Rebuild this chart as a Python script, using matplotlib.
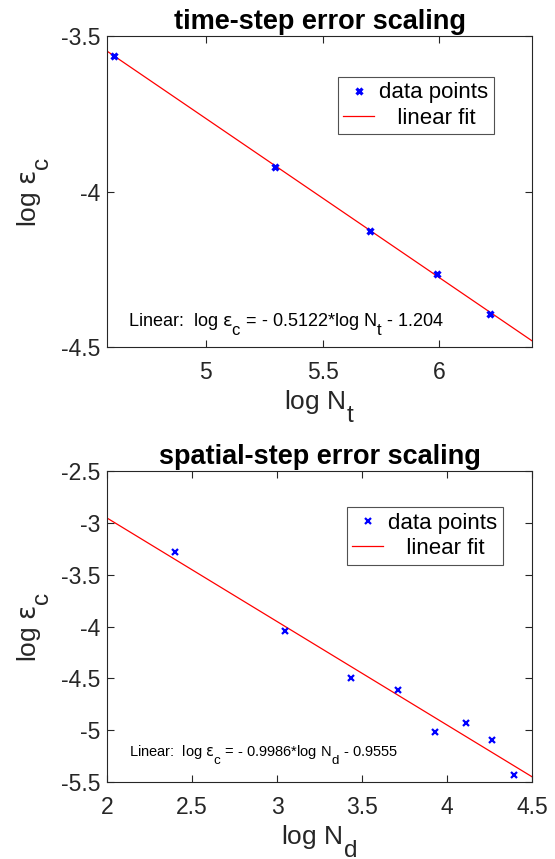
import numpy as np
import matplotlib
matplotlib.use("Agg")
import matplotlib.pyplot as plt
import matplotlib._mathtext as mt

plt.rcParams['font.family'] = ['Liberation Sans', 'DejaVu Sans']
plt.rcParams['mathtext.fontset'] = 'custom'
plt.rcParams['mathtext.rm'] = 'Liberation Sans'
plt.rcParams['mathtext.it'] = 'DejaVu Sans'
plt.rcParams['mathtext.fallback'] = 'stixsans'

# MATLAB-like subscripts: nearly full size, dropped below baseline
mt.SHRINK_FACTOR = 0.92
mt.FontConstantsBase.sub1 = 0.9
mt.FontConstantsBase.delta = 0.05

# ---- data: time-step ----
logNt = [4.605, 5.298, 5.704, 5.991, 6.215]
logec_t = [-3.564, -3.922, -4.127, -4.266, -4.393]
slope_t, icpt_t = -0.5122, -1.204
xlim_t = (4.577, 6.396)
ylim_t = (-4.5, -3.5)
xticks_t = [5, 5.5, 6]
yticks_t = [-4.5, -4, -3.5]

# ---- data: spatial-step ----
logNd = [2.398, 3.045, 3.434, 3.714, 3.932, 4.111, 4.263, 4.394]
logec_d = [-3.278, -4.046, -4.496, -4.609, -5.014, -4.927, -5.094, -5.429]
slope_d, icpt_d = -0.9986, -0.9555
xlim_d = (2, 4.5)
ylim_d = (-5.5, -2.5)
xticks_d = [2, 2.5, 3, 3.5, 4, 4.5]
yticks_d = [-5.5, -5, -4.5, -4, -3.5, -3, -2.5]

EPS = '$\\varepsilon_{\\rm c}$'

fig = plt.figure(figsize=(5.55, 8.59), dpi=100)
ax1 = fig.add_axes([0.1928, 0.596, 0.7658, 0.362])
ax2 = fig.add_axes([0.1928, 0.0896, 0.7658, 0.362])

gray = '#262626'

def style(ax):
    for s in ax.spines.values():
        s.set_color(gray)
        s.set_linewidth(0.8)
    ax.tick_params(direction='in', top=True, right=True, length=5,
                   width=0.8, color=gray, labelcolor=gray, labelsize=16.5)
    ax.tick_params(axis='x', pad=10)
    ax.tick_params(axis='y', pad=5)

def fmt(v):
    return '%g' % v

def finish(ax, title, xlab, xticks, yticks):
    ax.set_xticks(xticks)
    ax.set_xticklabels([fmt(v) for v in xticks])
    ax.set_yticks(yticks)
    ax.set_yticklabels([fmt(v) for v in yticks])
    style(ax)
    ax.set_title(title, fontsize=19.5, fontweight='bold', pad=5)
    ax.set_xlabel(xlab, fontsize=19, color=gray, labelpad=3)
    ax.set_ylabel('log ' + EPS, fontsize=19, color=gray, labelpad=6)

# top
xx = np.array(xlim_t)
ax1.plot(xx, slope_t * xx + icpt_t, color='red', lw=0.9, label='   linear fit', zorder=2)
ax1.plot(logNt, logec_t, linestyle='none', marker='x', ms=5, mew=2.3, color='blue',
         label='data points', zorder=3)
ax1.set_xlim(*xlim_t)
ax1.set_ylim(*ylim_t)
finish(ax1, 'time-step error scaling', 'log N$_{\\rm t}$', xticks_t, yticks_t)
h, l = ax1.get_legend_handles_labels()
leg1 = ax1.legend(h[::-1], l[::-1], loc='upper left', bbox_to_anchor=(0.543, 0.869),
                  fontsize=16, frameon=True, fancybox=False, edgecolor=gray,
                  handlelength=1.4, handletextpad=0.2, borderpad=0.25, labelspacing=0.2,
                  borderaxespad=0)
leg1.get_frame().set_linewidth(0.8)
ax1.text(4.665, -4.432, 'Linear:  log ' + EPS + ' = - 0.5122*log N$_{\\rm t}$ - 1.204',
         fontsize=13, va='baseline', ha='left', color='black')

# bottom
xx = np.array(xlim_d)
ax2.plot(xx, slope_d * xx + icpt_d, color='red', lw=0.9, label='   linear fit', zorder=2)
ax2.plot(logNd, logec_d, linestyle='none', marker='x', ms=4.5, mew=1.6, color='blue',
         label='data points', zorder=3)
ax2.set_xlim(*xlim_d)
ax2.set_ylim(*ylim_d)
finish(ax2, 'spatial-step error scaling', 'log N$_{\\rm d}$', xticks_d, yticks_d)
h, l = ax2.get_legend_handles_labels()
leg2 = ax2.legend(h[::-1], l[::-1], loc='upper left', bbox_to_anchor=(0.564, 0.884),
                  fontsize=16, frameon=True, fancybox=False, edgecolor=gray,
                  handlelength=1.4, handletextpad=0.2, borderpad=0.25, labelspacing=0.2,
                  borderaxespad=0)
leg2.get_frame().set_linewidth(0.8)
ax2.text(2.131, -5.255, 'Linear:  log ' + EPS + ' = - 0.9986*log N$_{\\rm d}$ - 0.9555',
         fontsize=10.5, va='baseline', ha='left', color='black')

fig.savefig('out.png', dpi=100)
